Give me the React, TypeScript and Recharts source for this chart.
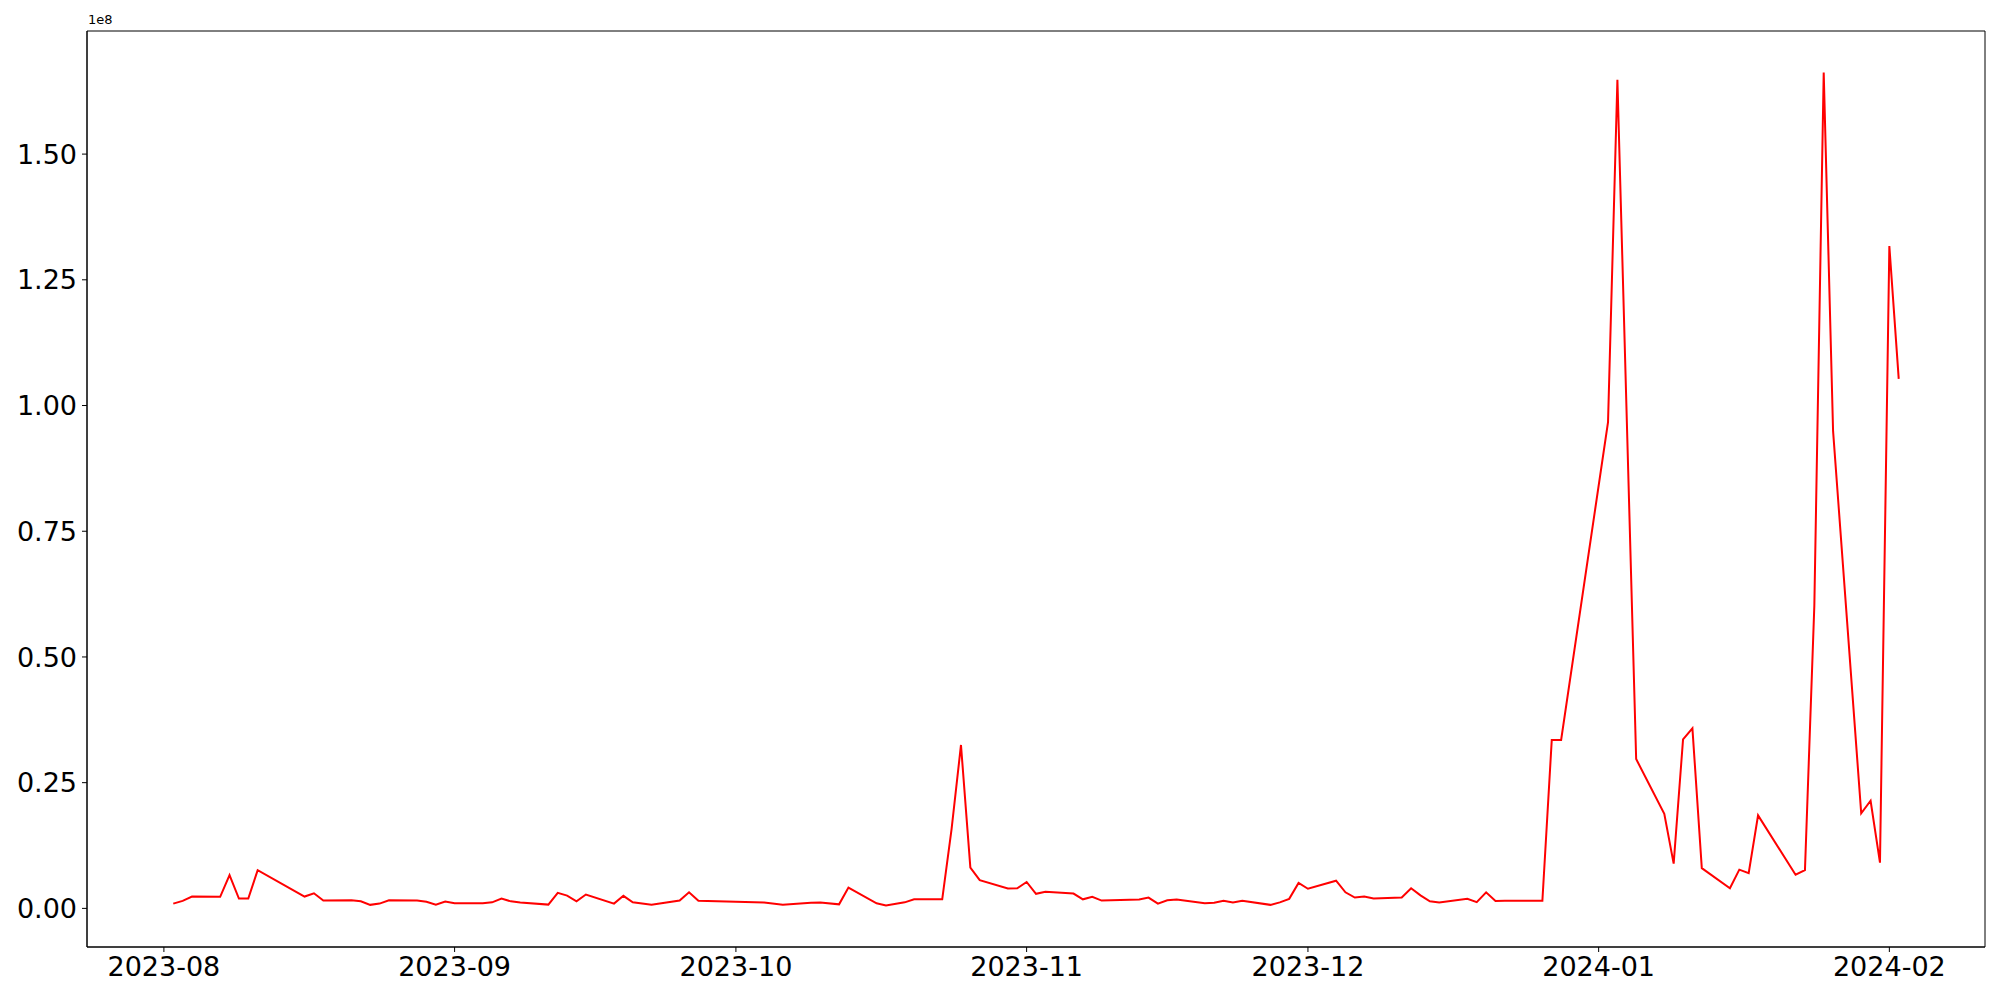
import React from 'react';
import { LineChart, Line, XAxis, YAxis, ReferenceArea } from 'recharts';

// trading days
const dates = [
  '2023-08-02', '2023-08-03', '2023-08-04', '2023-08-07', '2023-08-08', '2023-08-09', '2023-08-10', '2023-08-11',
  '2023-08-16', '2023-08-17', '2023-08-18', '2023-08-21', '2023-08-22', '2023-08-23', '2023-08-24', '2023-08-25',
  '2023-08-28', '2023-08-29', '2023-08-30', '2023-08-31', '2023-09-01', '2023-09-04', '2023-09-05', '2023-09-06',
  '2023-09-07', '2023-09-08', '2023-09-11', '2023-09-12', '2023-09-13', '2023-09-14', '2023-09-15', '2023-09-18',
  '2023-09-19', '2023-09-20', '2023-09-22', '2023-09-25', '2023-09-26', '2023-09-27', '2023-10-04', '2023-10-06',
  '2023-10-09', '2023-10-10', '2023-10-12', '2023-10-13', '2023-10-16', '2023-10-17', '2023-10-19', '2023-10-20',
  '2023-10-23', '2023-10-24', '2023-10-25', '2023-10-26', '2023-10-27', '2023-10-30', '2023-10-31', '2023-11-01',
  '2023-11-02', '2023-11-03', '2023-11-06', '2023-11-07', '2023-11-08', '2023-11-09', '2023-11-13', '2023-11-14',
  '2023-11-15', '2023-11-16', '2023-11-17', '2023-11-20', '2023-11-21', '2023-11-22', '2023-11-23', '2023-11-24',
  '2023-11-27', '2023-11-28', '2023-11-29', '2023-11-30', '2023-12-01', '2023-12-04', '2023-12-05', '2023-12-06',
  '2023-12-07', '2023-12-08', '2023-12-11', '2023-12-12', '2023-12-13', '2023-12-14', '2023-12-15', '2023-12-18',
  '2023-12-19', '2023-12-20', '2023-12-21', '2023-12-22', '2023-12-25', '2023-12-26', '2023-12-27', '2023-12-28',
  '2024-01-02', '2024-01-03', '2024-01-05', '2024-01-08', '2024-01-09', '2024-01-10', '2024-01-11', '2024-01-12',
  '2024-01-15', '2024-01-16', '2024-01-17', '2024-01-18', '2024-01-22', '2024-01-23', '2024-01-24', '2024-01-25',
  '2024-01-26', '2024-01-29', '2024-01-30', '2024-01-31', '2024-02-01', '2024-02-02',
];

// values in millions (axis shows 1e8)
const volume = [
  0.95, 1.5, 2.35, 2.3, 6.6, 1.95, 1.95, 7.6,
  2.35, 3.0, 1.55, 1.6, 1.4, 0.7, 0.95, 1.6,
  1.55, 1.3, 0.75, 1.35, 1.0, 1.0, 1.2, 1.95,
  1.4, 1.15, 0.75, 3.1, 2.55, 1.4, 2.75, 0.95,
  2.5, 1.2, 0.7, 1.55, 3.2, 1.5, 1.15, 0.7,
  1.1, 1.15, 0.8, 4.15, 1.0, 0.6, 1.2, 1.8,
  1.8, 15.8, 32.5, 8.1, 5.6, 3.95, 4.0, 5.25,
  2.9, 3.3, 2.95, 1.8, 2.3, 1.55, 1.75, 2.15,
  0.95, 1.6, 1.75, 1.0, 1.1, 1.5, 1.15, 1.5,
  0.7, 1.2, 1.9, 5.05, 3.9, 5.5, 3.2, 2.15,
  2.35, 1.95, 2.15, 4.0, 2.6, 1.4, 1.15, 1.9,
  1.25, 3.2, 1.45, 1.5, 1.5, 1.5, 33.5, 33.5,
  96.7, 164.8, 29.7, 18.8, 8.9, 33.6, 35.8, 8.0,
  4.0, 7.7, 7.0, 18.5, 6.7, 7.6, 60.2, 166.2,
  94.9, 18.9, 21.4, 9.1, 131.7, 105.3,
];

const monthTicks = ['2023-08-01', '2023-09-01', '2023-10-01', '2023-11-01', '2023-12-01', '2024-01-01', '2024-02-01'];
const yTicks = [0, 25, 50, 75, 100, 125, 150];

const data = dates.map((d, i) => ({ t: Date.parse(d), v: volume[i] }));

// matplotlib-style 5% margins
const tMin = data[0].t;
const tMax = data[data.length - 1].t;
const tPad = (tMax - tMin) * 0.05;
const vMin = Math.min(...volume);
const vMax = Math.max(...volume);
const vPad = (vMax - vMin) * 0.05;
const xDomain = [tMin - tPad, tMax + tPad];
const yDomain = [vMin - vPad, vMax + vPad];

const font = '"DejaVu Sans", sans-serif';

const App: React.FC = () => {
  return (
    <div style={{ position: 'absolute', left: 0, top: 0, width: 2000, height: 1000, background: '#fff', fontFamily: font }}>
      <LineChart width={2000} height={1000} data={data} margin={{ top: 31, right: 15, left: 0, bottom: 0 }}>
        <XAxis
          dataKey="t"
          type="number"
          domain={xDomain}
          allowDataOverflow
          ticks={monthTicks.map((m) => Date.parse(m))}
          tickFormatter={(t: number) => new Date(t).toISOString().slice(0, 7)}
          height={53}
          tickSize={5}
          tickMargin={5}
          stroke="#000"
          tick={{ fill: '#000', fontSize: 27, fontFamily: font }}
        />
        <YAxis
          type="number"
          domain={yDomain}
          allowDataOverflow
          ticks={yTicks}
          tickFormatter={(v: number) => (v / 100).toFixed(2)}
          width={87}
          tickSize={5}
          tickMargin={5}
          stroke="#000"
          tick={{ fill: '#000', fontSize: 27, fontFamily: font }}
        />
        <ReferenceArea
          x1={xDomain[0]}
          x2={xDomain[1]}
          y1={yDomain[0]}
          y2={yDomain[1]}
          fill="none"
          stroke="#000"
          strokeWidth={1}
          ifOverflow="visible"
        />
        <Line type="linear" dataKey="v" stroke="#ff0000" strokeWidth={2} dot={false} isAnimationActive={false} />
      </LineChart>
      <div style={{ position: 'absolute', left: 88, top: 12, fontSize: 13, color: '#000', fontFamily: font }}>1e8</div>
    </div>
  );
};

export default App;
